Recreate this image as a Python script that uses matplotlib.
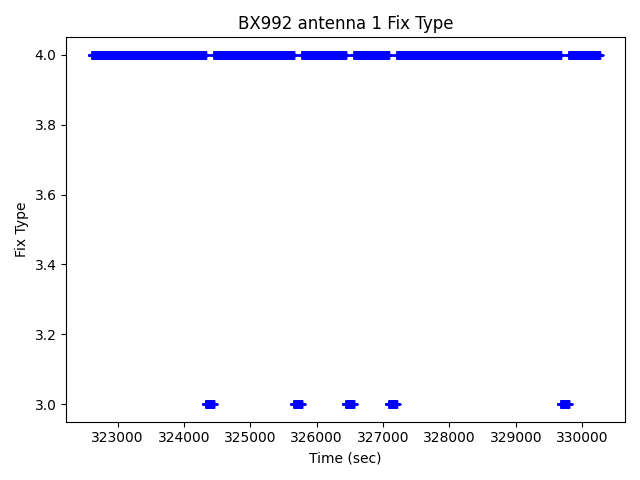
import matplotlib
matplotlib.use("Agg")
import matplotlib.pyplot as plt
import numpy as np

# Fix type runs (start time, end time in sec, fix type)
run_start = [322611, 324328, 324449, 325654, 325775, 326437, 326558, 327084, 327205, 329675, 329796]
run_end = [324328, 324449, 325654, 325775, 326437, 326558, 327084, 327205, 329675, 329796, 330262]
run_fix = [4, 3, 4, 3, 4, 3, 4, 3, 4, 3, 4]

# 1 Hz epochs within each run
time = []
fix_type = []
for t0, t1, f in zip(run_start, run_end, run_fix):
    epochs = np.arange(t0, t1)
    time.extend(epochs)
    fix_type.extend([f] * len(epochs))

fig, ax = plt.subplots(figsize=(6.4, 4.8), dpi=100)
ax.plot(time, fix_type, "b+")
ax.set_title("BX992 antenna 1 Fix Type")
ax.set_xlabel("Time (sec)")
ax.set_ylabel("Fix Type")

plt.tight_layout()
plt.savefig("out.png")
